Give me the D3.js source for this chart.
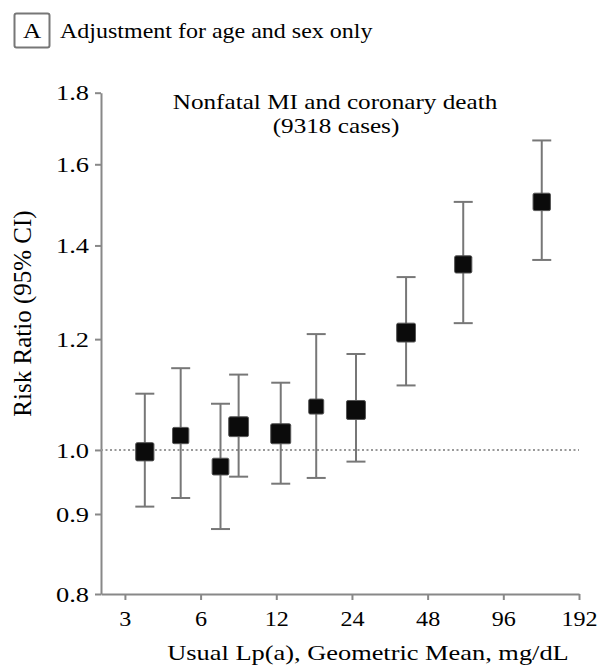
<!DOCTYPE html>
<html>
<head>
<meta charset="utf-8">
<script src="https://cdn.jsdelivr.net/npm/d3@7"></script>
<style>
  body { margin: 0; background: #fff; }
  svg { display: block; font-family: "Liberation Serif", "Times New Roman", serif; }
  .axis path, .axis line { stroke: #888; stroke-width: 2; }
  .axis text { fill: #000; font-size: 22px; font-family: "Liberation Serif", "Times New Roman", serif; }
  .x.axis text { font-size: 21px; }
</style>
</head>
<body>
<div class="chart"></div>
<script>
// geometric mean Lp(a) per group, mg/dL
var lpa = [3.6, 5.0, 7.2, 8.5, 12.5, 17.3, 24.9, 39.4, 66.5, 136.5];
// risk ratio and 95% CI
var rr = [0.997, 1.024, 0.973, 1.039, 1.027, 1.074, 1.068, 1.213, 1.357, 1.504];
var ciLow = [0.911, 0.924, 0.878, 0.957, 0.946, 0.955, 0.981, 1.112, 1.232, 1.367];
var ciHigh = [1.097, 1.144, 1.079, 1.132, 1.117, 1.210, 1.171, 1.329, 1.504, 1.664];

var xTicks = [3, 6, 12, 24, 48, 96, 192];
var yTicks = [0.8, 0.9, 1.0, 1.2, 1.4, 1.6, 1.8];
var yTickLabels = ["0.8", "0.9", "1.0", "1.2", "1.4", "1.6", "1.8"];

var data = lpa.map(function(d, i) {
	return {lpa: d, rr: rr[i], lo: ciLow[i], hi: ciHigh[i]};
});

var width = 598, height = 665;
var SX = 1.2; // the source figure is stretched sideways

var svg = d3.select(".chart").append("svg")
	.attr("width", width)
	.attr("height", height);

var x = d3.scaleLog().base(2).domain([2.41, 192]).range([101, 579]);
var y = d3.scaleLog().domain([0.789, 1.8]).range([594, 92.7]);

// axis bottom end is labelled 0.8
var yTickPos = yTicks.map(function(d, i) { return i == 0 ? y.domain()[0] : d; });

var yAxis = d3.axisLeft(y)
	.tickValues(yTickPos)
	.tickFormat(function(d, i) { return yTickLabels[i]; })
	.tickSize(6)
	.tickSizeOuter(0)
	.tickPadding(4);

var xAxis = d3.axisBottom(x)
	.tickValues(xTicks)
	.tickFormat(d3.format("d"))
	.tickSize(6)
	.tickSizeOuter(0)
	.tickPadding(11);

svg.append("g")
	.attr("class", "y axis")
	.attr("transform", "translate(" + x.range()[0] + ",0)")
	.call(yAxis)
	.selectAll("text")
	.attr("transform", "scale(" + SX + ",1)");

svg.append("g")
	.attr("class", "x axis")
	.attr("transform", "translate(0," + y.range()[0] + ")")
	.call(xAxis)
	.selectAll("text")
	.attr("transform", "scale(1.15,1)");

// reference line at 1.0
svg.append("line")
	.attr("x1", x.range()[0]).attr("x2", x.range()[1])
	.attr("y1", y(1)).attr("y2", y(1))
	.style("stroke", "#999")
	.style("stroke-width", 2)
	.style("stroke-dasharray", "2,2.5");

// marker size grows with precision of the estimate
var prec = data.map(function(d) { return 1 / Math.log(d.hi / d.lo); });
var size = d3.scaleLinear().domain(d3.extent(prec)).range([15, 20]);

var g = svg.append("g").selectAll("g")
	.data(data)
	.enter().append("g");

g.append("line")
	.attr("x1", function(d) { return x(d.lpa); })
	.attr("x2", function(d) { return x(d.lpa); })
	.attr("y1", function(d) { return y(d.lo); })
	.attr("y2", function(d) { return y(d.hi); })
	.style("stroke", "#777")
	.style("stroke-width", 2);

["lo", "hi"].forEach(function(k) {
	g.append("line")
		.attr("x1", function(d) { return x(d.lpa) - 9.5; })
		.attr("x2", function(d) { return x(d.lpa) + 9.5; })
		.attr("y1", function(d) { return y(d[k]); })
		.attr("y2", function(d) { return y(d[k]); })
		.style("stroke", "#777")
		.style("stroke-width", 2);
});

g.append("rect")
	.attr("x", function(d, i) { return x(d.lpa) - size(prec[i]) / 2; })
	.attr("y", function(d, i) { return y(d.rr) - size(prec[i]) / 2; })
	.attr("width", function(d, i) { return size(prec[i]); })
	.attr("height", function(d, i) { return size(prec[i]); })
	.attr("rx", 1.5)
	.style("fill", "#0b0b0b")
	.style("stroke", "#555")
	.style("stroke-width", 1);

// texts
function label(txt, tx, ty, fs, anchor) {
	return svg.append("text")
		.attr("transform", "translate(" + tx + "," + ty + ") scale(" + SX + ",1)")
		.attr("text-anchor", anchor)
		.style("font-size", fs + "px")
		.text(txt);
}

svg.append("rect")
	.attr("x", 14.5).attr("y", 13.5)
	.attr("width", 35).attr("height", 34)
	.attr("rx", 2)
	.style("fill", "none")
	.style("stroke", "#777")
	.style("stroke-width", 2);

label("A", 32, 38, 21, "middle");
label("Adjustment for age and sex only", 60, 38, 20, "start");

label("Nonfatal MI and coronary death", 335, 109, 21, "middle");
label("(9318 cases)", 336, 133, 21, "middle");

label("Usual Lp(a), Geometric Mean, mg/dL", 368, 660, 22, "middle");

svg.append("text")
	.attr("transform", "translate(31,313.5) rotate(-90)")
	.attr("text-anchor", "middle")
	.style("font-size", "25px")
	.text("Risk Ratio (95% CI)");
</script>
</body>
</html>
